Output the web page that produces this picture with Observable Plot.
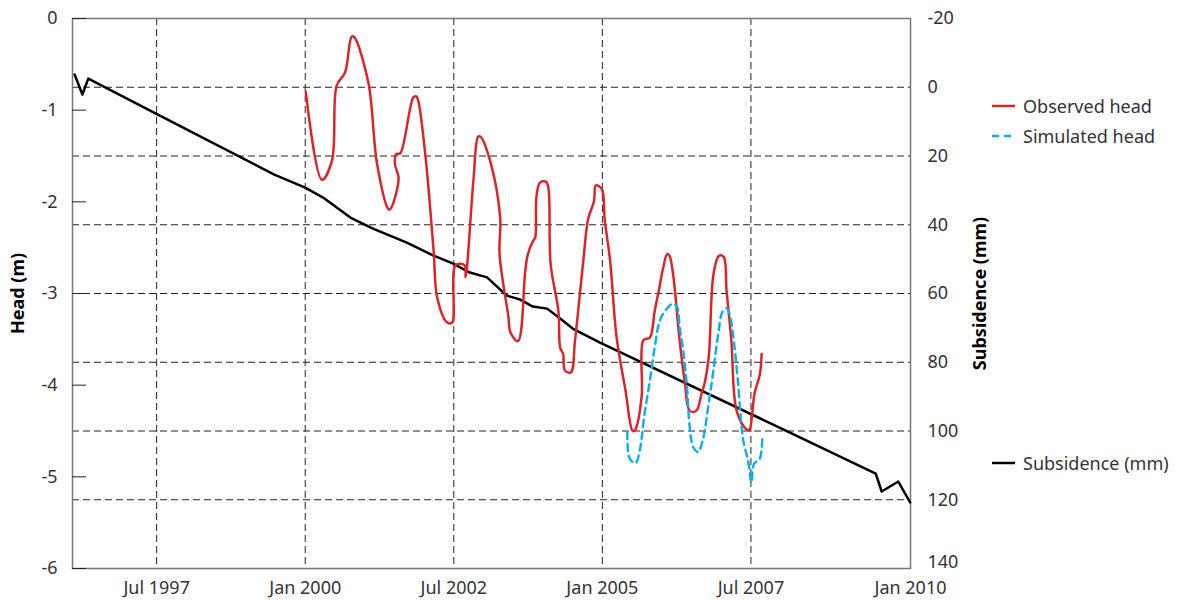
<!DOCTYPE html>
<html><head><meta charset="utf-8">
<script src="https://cdn.jsdelivr.net/npm/d3@7"></script>
<script src="https://cdn.jsdelivr.net/npm/@observablehq/plot@0.6"></script>
<style>
body{margin:0;background:#fff;font-family:"Noto Sans",sans-serif;}
#wrap{position:relative;width:1187px;height:600px;}
.leg{position:absolute;left:990px;height:24px;font-size:18px;color:#333;display:flex;align-items:center;white-space:nowrap;}
.leg svg{margin-right:7px;}
</style></head><body><div id="wrap"></div>
<script>
// x axis (decimal years)
const xStart = 1996.084, xEnd = 2010.185;
const xTickYears = [1997.5, 2000, 2002.5, 2005, 2007.5, 2010.185];
const xTickLabels = ["Jul 1997", "Jan 2000", "Jul 2002", "Jan 2005", "Jul 2007", "Jan 2010"];
const gridYears = [1997.5, 2000, 2002.5, 2005, 2007.5];
// left axis (head, m)
const headTicks = [0, -1, -2, -3, -4, -5, -6];
// right axis (subsidence, mm; inverted)
const subTicks = [-20, 0, 20, 40, 60, 80, 100, 120];
const subTickLast = [140];
const gridSub = [0, 20, 40, 60, 80, 100, 120];

// Subsidence (mm)
const subYears = [1996.12, 1996.25, 1996.35, 1997.48, 1999.48, 2000.0, 2000.30, 2000.76, 2001.14, 2001.71, 2002.15, 2002.49, 2002.77, 2003.06, 2003.39, 2003.61, 2003.83, 2004.07, 2004.29, 2004.50, 2004.96, 2007.98, 2009.60, 2009.70, 2009.98, 2010.18];
const subValues = [-3.7, 2.1, -2.5, 7.6, 25.4, 29.2, 32.1, 37.9, 41.1, 45.2, 48.9, 51.3, 53.9, 55.3, 60.6, 61.7, 63.8, 64.4, 67.3, 70.2, 74.3, 99.0, 112.4, 117.6, 114.7, 120.8];

// Observed head (m)
const obsYears = [2000.01, 2000.28, 2000.45, 2000.53, 2000.67, 2000.78, 2000.82, 2001.06, 2001.21, 2001.40, 2001.43, 2001.54, 2001.57, 2001.51, 2001.53, 2001.60, 2001.82, 2001.87, 2001.90, 2002.02, 2002.16, 2002.22, 2002.38, 2002.47, 2002.53, 2002.68, 2002.70, 2002.83, 2002.91, 2002.95, 2003.11, 2003.28, 2003.27, 2003.42, 2003.45, 2003.58, 2003.70, 2003.74, 2003.83, 2003.87, 2003.89, 2003.95, 2004.05, 2004.09, 2004.13, 2004.26, 2004.29, 2004.34, 2004.37, 2004.47, 2004.54, 2004.68, 2004.76, 2004.86, 2004.89, 2004.99, 2005.04, 2005.13, 2005.24, 2005.39, 2005.51, 2005.55, 2005.66, 2005.69, 2005.80, 2005.88, 2005.95, 2006.02, 2006.09, 2006.13, 2006.19, 2006.30, 2006.39, 2006.47, 2006.58, 2006.67, 2006.72, 2006.79, 2006.87, 2006.96, 2007.04, 2007.09, 2007.17, 2007.26, 2007.42, 2007.47, 2007.56, 2007.65, 2007.68];
const obsHead = [-0.80, -1.76, -1.55, -0.73, -0.59, -0.20, -0.20, -0.69, -1.59, -2.08, -2.08, -1.88, -1.73, -1.59, -1.48, -1.47, -0.86, -0.85, -0.89, -1.48, -2.53, -3.04, -3.31, -3.32, -2.69, -2.69, -2.82, -1.77, -1.29, -1.29, -1.55, -2.17, -2.57, -3.26, -3.42, -3.52, -2.77, -2.59, -2.43, -2.39, -1.95, -1.79, -1.78, -1.84, -2.68, -3.19, -3.59, -3.66, -3.84, -3.86, -3.51, -2.64, -2.19, -1.99, -1.82, -1.86, -2.20, -2.64, -3.48, -4.06, -4.50, -4.49, -4.13, -3.51, -3.48, -3.19, -2.97, -2.73, -2.57, -2.59, -2.79, -3.51, -3.98, -4.28, -4.28, -4.09, -3.98, -3.69, -2.79, -2.59, -2.60, -2.97, -3.51, -4.28, -4.48, -4.49, -4.09, -3.88, -3.66];

// Simulated head (m)
const simYears = [2005.42, 2005.46, 2005.56, 2005.63, 2005.71, 2005.80, 2005.88, 2005.97, 2006.08, 2006.19, 2006.26, 2006.30, 2006.36, 2006.42, 2006.47, 2006.53, 2006.61, 2006.69, 2006.78, 2006.86, 2006.95, 2007.02, 2007.09, 2007.14, 2007.21, 2007.28, 2007.37, 2007.45, 2007.51, 2007.55, 2007.65, 2007.69];
const simHead = [-4.51, -4.80, -4.85, -4.71, -4.31, -3.95, -3.59, -3.29, -3.17, -3.11, -3.15, -3.37, -3.62, -3.99, -4.46, -4.68, -4.73, -4.60, -4.24, -3.88, -3.44, -3.20, -3.16, -3.22, -3.51, -3.95, -4.60, -4.82, -5.06, -4.86, -4.80, -4.57];

const toHead = s => -(s + 20) * 6 / 160;
const fromHead = h => Math.round(-h * 160 / 6 - 20);
const xLabel = new Map(xTickYears.map((d, i) => [d, xTickLabels[i]]));

const sub = subYears.map((t, i) => ({t, s: subValues[i]}));
const obs = obsYears.map((t, i) => ({t, h: obsHead[i]}));
const sim = simYears.map((t, i) => ({t, h: simHead[i]}));

const plot = Plot.plot({
  width: 1187, height: 600,
  marginLeft: 72, marginRight: 277, marginTop: 18, marginBottom: 32,
  style: {fontFamily: '"Noto Sans", sans-serif', fontSize: "18px", color: "#333", background: "white"},
  x: {domain: [xStart, xEnd]},
  y: {domain: [-6, 0]},
  marks: [
    Plot.ruleX(gridYears, {stroke: "#222", strokeDasharray: "7,4", strokeWidth: 1}),
    Plot.ruleY(gridSub, {y: toHead, stroke: "#222", strokeDasharray: "7,4", strokeWidth: 1}),
    Plot.frame({stroke: "#777", strokeWidth: 1.5}),
    Plot.axisY(headTicks, {anchor: "left", tickSize: 14, dx: 14, tickFormat: () => "", stroke: "#222", label: null}),
    Plot.axisY(headTicks, {anchor: "left", tickSize: 0, tickPadding: 15, tickFormat: d => String(d), label: null}),
    Plot.axisY(subTicks.map(toHead), {anchor: "right", tickSize: 0, tickPadding: 17, tickFormat: h => String(fromHead(h)), label: null}),
    Plot.axisY(subTickLast.map(toHead), {anchor: "right", tickSize: 0, tickPadding: 17, dy: -6, tickFormat: h => String(fromHead(h)), label: null}),
    Plot.axisX(xTickYears, {anchor: "bottom", tickSize: 0, tickPadding: 13, tickFormat: d => xLabel.get(d), label: null}),
    Plot.line(sub, {x: "t", y: d => toHead(d.s), stroke: "#000", strokeWidth: 2.5}),
    Plot.line(obs, {x: "t", y: "h", stroke: "#d9252c", strokeWidth: 2.5, curve: "catmull-rom"}),
    Plot.line(sim, {x: "t", y: "h", stroke: "#12aee8", strokeWidth: 2.5, strokeDasharray: "7,5", curve: "catmull-rom"}),
    Plot.text(["Head (m)"], {frameAnchor: "left", dx: -54, rotate: -90, textAnchor: "middle", fontWeight: "bold", fill: "#000"}),
    Plot.text(["Subsidence (mm)"], {frameAnchor: "right", dx: 70, rotate: -90, textAnchor: "middle", fontWeight: "bold", fill: "#000"})
  ]
});
const wrap = document.getElementById("wrap");
wrap.appendChild(plot);

const legendItems = [
  {label: "Observed head", color: "#d9252c", dash: null, top: 94},
  {label: "Simulated head", color: "#12aee8", dash: "7,5", top: 124},
  {label: "Subsidence (mm)", color: "#000", dash: null, top: 451}
];
for (const it of legendItems) {
  const div = document.createElement("div");
  div.className = "leg";
  div.style.top = it.top + "px";
  div.innerHTML = `<svg width="26" height="6"><line x1="2" x2="25" y1="3" y2="3" stroke="${it.color}" stroke-width="2.5" ${it.dash ? `stroke-dasharray="${it.dash}"` : ""}/></svg><span>${it.label}</span>`;
  wrap.appendChild(div);
}
</script>
</body></html>
